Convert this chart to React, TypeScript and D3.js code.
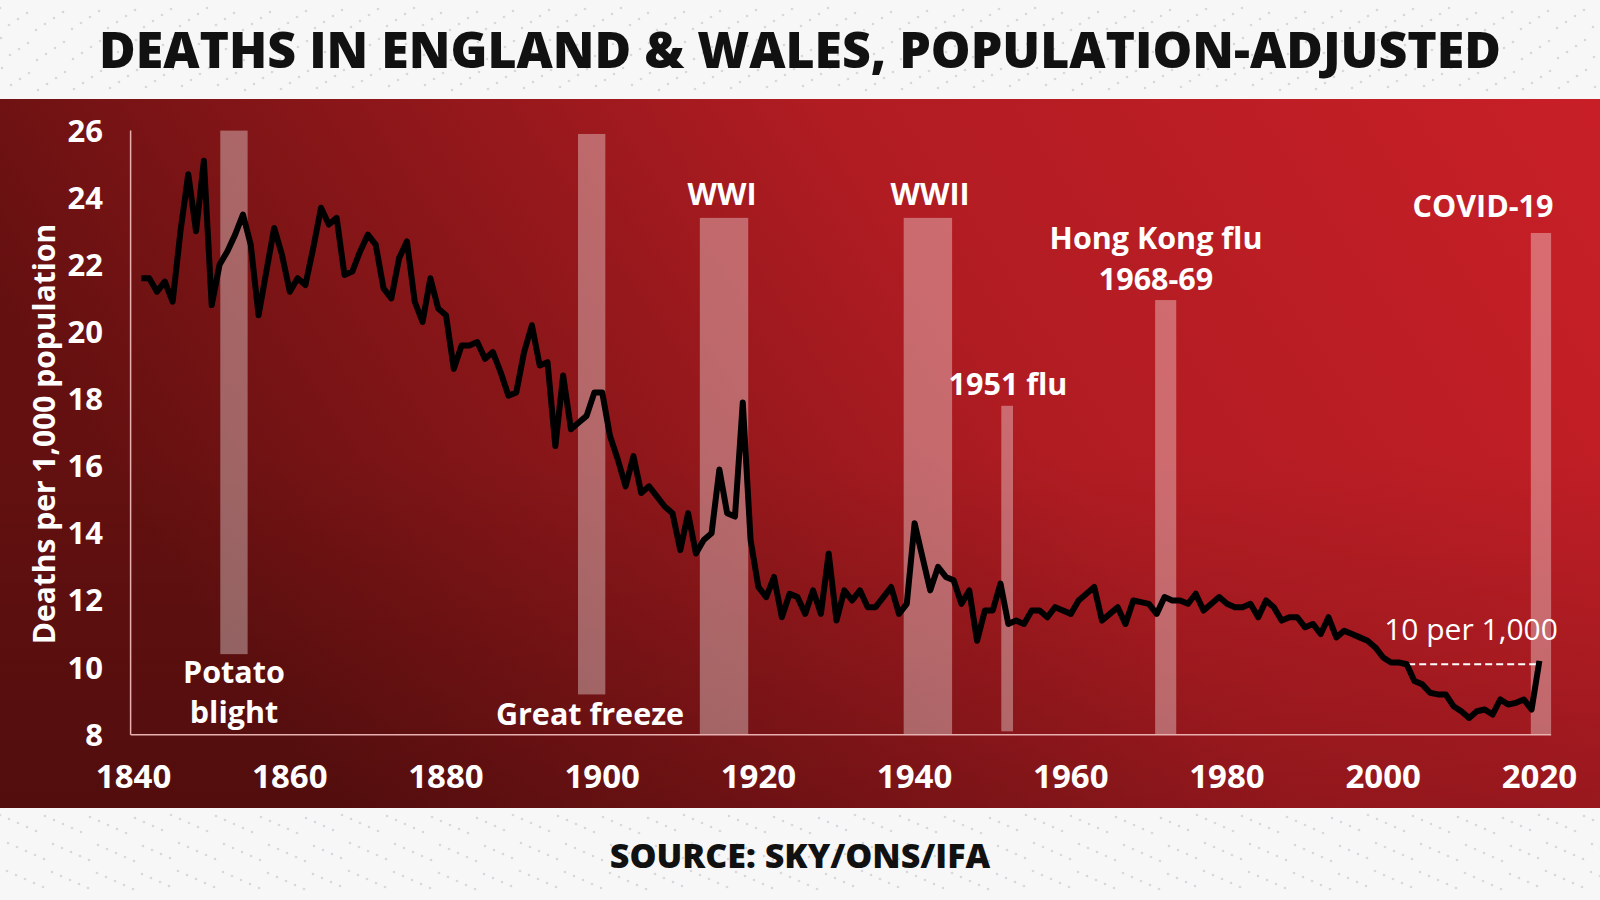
import React from "react";
import * as d3 from "d3";

const startYear = 1841;
const deathRates = [
  21.6, 21.6, 21.2, 21.5, 20.9, 23.0, 24.7, 23.0, 25.1, 20.8,
  22.0, 22.4, 22.9, 23.5, 22.6, 20.5, 21.8, 23.1, 22.3, 21.2,
  21.6, 21.4, 22.5, 23.7, 23.2, 23.4, 21.7, 21.8, 22.4, 22.9,
  22.6, 21.3, 21.0, 22.2, 22.7, 20.9, 20.3, 21.6, 20.7, 20.5,
  18.9, 19.6, 19.6, 19.7, 19.2, 19.4, 18.8, 18.1, 18.2, 19.4,
  20.2, 19.0, 19.1, 16.6, 18.7, 17.1, 17.3, 17.5, 18.2, 18.2,
  16.9, 16.2, 15.4, 16.3, 15.2, 15.4, 15.1, 14.8, 14.6, 13.5,
  14.6, 13.4, 13.8, 14.0, 15.9, 14.6, 14.5, 17.9, 13.8, 12.4,
  12.1, 12.7, 11.5, 12.2, 12.1, 11.6, 12.3, 11.6, 13.4, 11.4,
  12.3, 12.0, 12.3, 11.8, 11.8, 12.1, 12.4, 11.6, 11.9, 14.3,
  13.3, 12.3, 13.0, 12.7, 12.6, 11.9, 12.3, 10.8, 11.7, 11.7,
  12.5, 11.3, 11.4, 11.3, 11.7, 11.7, 11.5, 11.8, 11.7, 11.6,
  12.0, 12.2, 12.4, 11.4, 11.6, 11.8, 11.3, 12.0, 11.95, 11.9,
  11.6, 12.1, 12.0, 12.0, 11.9, 12.2, 11.7, 11.9, 12.1, 11.9,
  11.8, 11.8, 11.9, 11.5, 12.0, 11.8, 11.4, 11.5, 11.5, 11.2,
  11.3, 11.0, 11.5, 10.9, 11.1, 11.0, 10.9, 10.8, 10.6, 10.3,
  10.15, 10.15, 10.1, 9.6, 9.5, 9.25, 9.2, 9.2, 8.85, 8.7,
  8.5, 8.7, 8.75, 8.6, 9.05, 8.9, 8.95, 9.05, 8.75, 10.2,
];
const years = deathRates.map((_, i) => startYear + i);

const yTicks = [8, 10, 12, 14, 16, 18, 20, 22, 24, 26];
const xTicks = [1840, 1860, 1880, 1900, 1920, 1940, 1960, 1980, 2000, 2020];

// event bands: [start year, end year, top value, bottom value]
const bandNames = ["Potato blight", "Great freeze", "WWI", "WWII", "1951 flu", "Hong Kong flu", "COVID-19"];
const bandStart = [1851.1, 1896.9, 1912.5, 1938.6, 1951.1, 1970.8, 2018.9];
const bandEnd = [1854.6, 1900.4, 1918.7, 1944.8, 1952.6, 1973.5, 2021.5];
const bandTop = [26.0, 25.9, 23.4, 23.4, 17.8, 20.95, 22.95];
const bandBottom = [10.4, 9.2, 8, 8, 8.1, 8, 8];

const refValue = 10.1;
const refStart = 2003.2;

export default function App() {
  const W = 1600, H = 900;
  const x = d3.scaleLinear().domain([1840, 2020]).range([133.6, 1539.4]);
  const y = d3.scaleLinear().domain([8, 26]).range([734.7, 130.6]);
  const line = d3.line<number>().x((_, i) => x(years[i])).y((d) => y(d)).curve(d3.curveLinear);
  const dots = [];
  for (let i = 0; i < 1600; i += 9) {
    for (let j = 0; j < 3; j++) {
      dots.push(<circle key={"t" + i + "_" + j} cx={i + ((j * 37) % 9)} cy={8 + j * 30 + ((i * 7) % 23)} r={1.3} fill="#d8d8dc" />);
      dots.push(<circle key={"b" + i + "_" + j} cx={i + ((j * 53) % 9)} cy={815 + j * 28 + ((i * 11) % 19)} r={1.3} fill="#d8d8dc" />);
    }
  }
  const lbl = { fill: "#fff", fontFamily: "'Open Sans', sans-serif", fontWeight: 700, fontSize: 30.5, textAnchor: "middle" as const };
  return (
    <svg width={W} height={H} style={{ position: "absolute", left: 0, top: 0 }}>
      <defs>
        <linearGradient id="bg" x1="0" x2="1" y1="0.3" y2="0">
          <stop offset="0" stopColor="#641010" />
          <stop offset="0.55" stopColor="#b01c22" />
          <stop offset="1" stopColor="#c81f27" />
        </linearGradient>
        <linearGradient id="shade" x1="0" x2="0" y1="0" y2="1">
          <stop offset="0.5" stopColor="#000" stopOpacity="0" />
          <stop offset="1" stopColor="#000" stopOpacity="0.18" />
        </linearGradient>
      </defs>
      <rect width={W} height={H} fill="#f7f7f8" />
      {dots}
      <rect x={0} y={99} width={W} height={709} fill="url(#bg)" />
      <rect x={0} y={99} width={W} height={709} fill="url(#shade)" />
      <text x={800} y={68} textAnchor="middle" fontFamily="'Open Sans', sans-serif" fontWeight={800} fontSize={50} fill="#111">
        DEATHS IN ENGLAND &amp; WALES, POPULATION-ADJUSTED
      </text>
      <text x={800} y={868} textAnchor="middle" fontFamily="'Open Sans', sans-serif" fontWeight={800} fontSize={34} fill="#111">
        SOURCE: SKY/ONS/IFA
      </text>
      {bandNames.map((n, i) => (
        <rect key={n} x={x(bandStart[i])} width={x(bandEnd[i]) - x(bandStart[i])} y={y(bandTop[i])}
          height={y(bandBottom[i]) - y(bandTop[i])} fill="#ffffff" fillOpacity={0.35} />
      ))}
      <line x1={x(1840) - 3} x2={x(1840) - 3} y1={y(26)} y2={y(8)} stroke="#e8b0b0" strokeWidth={1.5} />
      <line x1={x(1840) - 3} x2={x(2021.5)} y1={y(8)} y2={y(8)} stroke="#e8b0b0" strokeWidth={1.5} />
      {yTicks.map((t) => (
        <text key={t} x={103} y={y(t) + 11} textAnchor="end" fontFamily="'Open Sans', sans-serif" fontWeight={700} fontSize={31} fill="#fff">{t}</text>
      ))}
      {xTicks.map((t) => (
        <text key={t} x={x(t)} y={788} textAnchor="middle" fontFamily="'Open Sans', sans-serif" fontWeight={700} fontSize={33} fill="#fff">{t}</text>
      ))}
      <text transform="translate(55,434) rotate(-90)" textAnchor="middle" fontFamily="'Open Sans', sans-serif" fontWeight={700} fontSize={30} fill="#fff">
        Deaths per 1,000 population
      </text>
      <line x1={x(refStart)} x2={x(2020)} y1={y(refValue)} y2={y(refValue)} stroke="#fff" strokeWidth={2} strokeDasharray="7,4" />
      <path d={line(deathRates) || ""} fill="none" stroke="#000" strokeWidth={6} strokeLinejoin="round" />
      <text {...lbl} x={234} y={683}>Potato</text>
      <text {...lbl} x={234} y={723}>blight</text>
      <text {...lbl} x={590} y={725}>Great freeze</text>
      <text {...lbl} x={722} y={205}>WWI</text>
      <text {...lbl} x={930} y={205}>WWII</text>
      <text {...lbl} x={1008} y={395}>1951 flu</text>
      <text {...lbl} x={1156} y={249}>Hong Kong flu</text>
      <text {...lbl} x={1156} y={290}>1968-69</text>
      <text {...lbl} x={1483} y={217}>COVID-19</text>
      <text x={1471} y={640} textAnchor="middle" fontFamily="'Open Sans', sans-serif" fontWeight={400} fontSize={30} fill="#fff">10 per 1,000</text>
    </svg>
  );
}
